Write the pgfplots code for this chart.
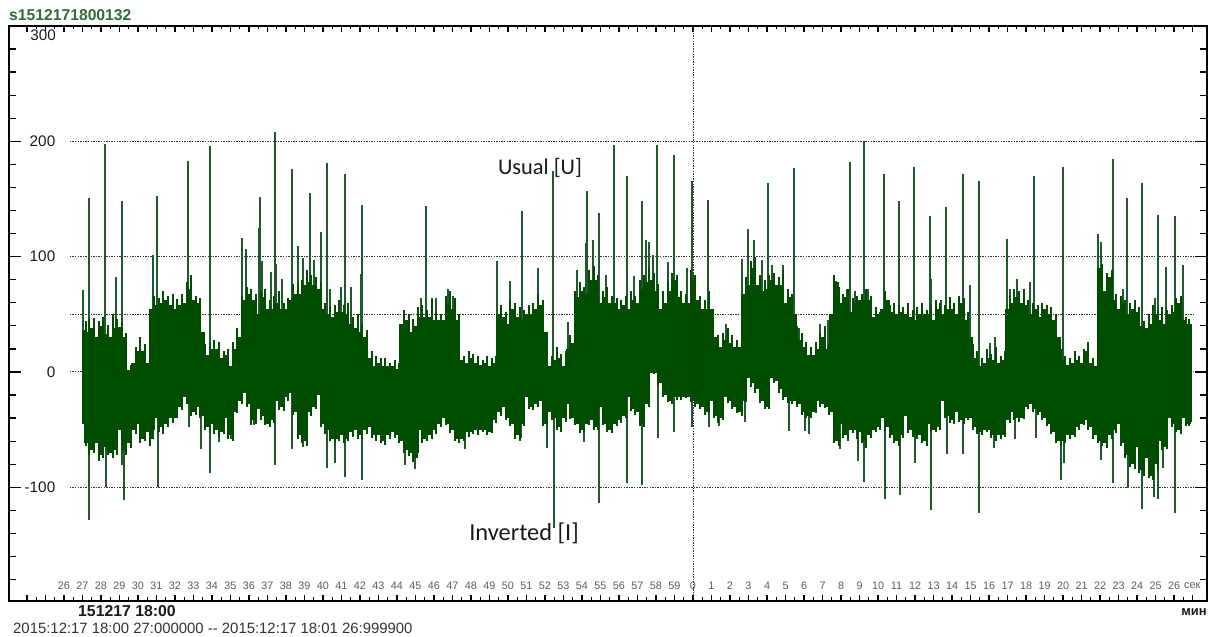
\documentclass[border=0pt]{standalone}
\usepackage{fontspec}
\setmainfont{Liberation Sans}
\newfontfamily\carlito{Carlito}
\usepackage{pgfplots}
\usepackage{pgfplotstable}
\pgfplotsset{compat=1.18}
\definecolor{sig}{HTML}{004D00}
\definecolor{spk}{HTML}{1F5A2C}
\definecolor{titlegreen}{HTML}{2F6B3A}
\definecolor{gridc}{HTML}{333333}
\definecolor{seclab}{HTML}{5A5A5A}

% signal envelope per quarter second: t, upper, lower
\pgfplotstableread{
t hi lo
27.1 36 -45
27.25 35 -62
27.5 38 -68
27.75 30 -62
28 40 -72
28.25 33 -65
28.5 30 -70
28.75 38 -68
29 39 -50
29.25 30 -68
29.5 -8 -62
29.75 8 -50
30 18 -45
30.25 18 -58
30.5 8 -52
30.75 55 -58
31 58 -40
31.25 60 -48
31.5 62 -45
31.75 58 -40
32 55 -40
32.25 58 -30
32.5 60 -22
32.75 72 -28
33 62 -35
33.25 60 -30
33.5 35 -38
33.75 15 -48
34 20 -45
34.25 20 -50
34.5 12 -52
34.75 15 -40
35 5 -55
35.25 20 -35
35.5 30 -25
35.75 62 -18
36 68 -28
36.25 62 -42
36.5 50 -32
36.75 65 -38
37 55 -45
37.25 55 -42
37.5 60 -25
37.75 55 -30
38 55 -22
38.25 62 -18
38.5 68 -35
38.75 68 -55
39 75 -60
39.25 78 -35
39.5 75 -30
39.75 72 -20
40 55 -45
40.25 50 -50
40.5 48 -58
40.75 52 -58
41 52 -55
41.25 50 -58
41.5 42 -52
41.75 38 -50
42 35 -55
42.25 30 -50
42.5 12 -48
42.75 5 -55
43 8 -55
43.25 5 -60
43.5 5 -55
43.75 5 -52
44 3 -55
44.25 42 -60
44.5 45 -68
44.75 35 -70
45 40 -75
45.25 48 -50
45.5 48 -58
45.75 48 -55
46 45 -50
46.25 45 -45
46.5 45 -40
46.75 60 -45
47 55 -50
47.25 45 -58
47.5 10 -58
47.75 8 -52
48 12 -52
48.25 8 -50
48.5 6 -50
48.75 8 -50
49 5 -52
49.25 8 -42
49.5 50 -35
49.75 48 -30
50 42 -40
50.25 55 -45
50.5 48 -55
50.75 45 -45
51 50 -22
51.25 50 -30
51.5 55 -28
51.75 58 -25
52 35 -45
52.25 5 -35
52.5 10 -40
52.75 12 -48
53 5 -40
53.25 20 -28
53.5 25 -40
53.75 65 -45
54 70 -50
54.25 68 -45
54.5 80 -42
54.75 80 -48
55 60 -30
55.25 65 -45
55.5 60 -50
55.75 60 -45
56 55 -42
56.25 58 -38
56.5 55 -22
56.75 62 -32
57 60 -35
57.25 72 -45
57.5 78 -28
57.75 80 0
58 70 0
58.25 55 -10
58.5 60 -20
58.75 70 -25
59 80 -22
59.25 65 -22
59.5 60 -22
59.75 60 -22
60 80 -25
60.25 62 -28
60.5 55 -30
60.75 55 -35
61 55 -25
61.25 30 -38
61.5 22 -40
61.75 28 -22
62 25 -25
62.25 22 -30
62.5 22 -35
62.75 68 -25
63 75 -5
63.25 90 -10
63.5 75 -15
63.75 70 -25
64 72 -30
64.25 80 -5
64.5 75 -8
64.75 75 -15
65 60 -22
65.25 65 -25
65.5 50 -25
65.75 28 -28
66 22 -35
66.25 15 -38
66.5 15 -35
66.75 20 -25
67 30 -28
67.25 20 -30
67.5 50 -35
67.75 78 -60
68 60 -45
68.25 65 -55
68.5 52 -50
68.75 60 -50
69 62 -52
69.25 62 -60
69.5 62 -55
69.75 48 -50
70 50 -48
70.25 55 -40
70.5 62 -48
70.75 52 -55
71 50 -60
71.25 52 -55
71.5 50 -38
71.75 48 -50
72 45 -55
72.25 50 -55
72.5 50 -60
72.75 50 -45
73 45 -50
73.25 55 -48
73.5 50 -25
73.75 55 -38
74 55 -42
74.25 50 -35
74.5 60 -42
74.75 45 -40
75 30 -40
75.25 12 -48
75.5 5 -52
75.75 8 -50
76 12 -50
76.25 10 -55
76.5 8 -55
76.75 10 -55
77 55 -42
77.25 60 -35
77.5 65 -40
77.75 60 -40
78 58 -30
78.25 50 -28
78.5 55 -32
78.75 48 -35
79 55 -40
79.25 50 -45
79.5 45 -52
79.75 30 -60
80 10 -60
80.25 6 -55
80.5 8 -55
80.75 10 -48
81 8 -45
81.25 18 -42
81.5 8 -48
81.75 5 -55
82 90 -60
82.25 70 -62
82.5 82 -55
82.75 62 -50
83 55 -45
83.25 60 -62
83.5 50 -72
83.75 55 -80
84 52 -65
84.25 40 -85
84.5 38 -75
84.75 42 -90
85 50 -80
85.25 45 -60
85.5 42 -65
85.75 50 -40
86 52 -45
86.25 60 -50
86.5 45 -40
86.75 40 -45
86.85 42 -43
}\body

% fine teeth on the envelope edges, between the quarter-second columns
\pgfplotstableread{
t hi lo
27.18 44 -64
27.375 46 -72
27.625 47 -70
27.875 44 -77
28.125 48 -75
28.375 41 -72
28.625 50 -75
28.875 46 -72
29.125 43 -60
29.375 34 -72
29.625 6 -66
29.875 22 -54
30.125 30 -62
30.375 24 -60
30.625 12 -64
30.875 66 -50
31.125 64 -52
31.375 70 -54
31.625 66 -48
31.875 68 -44
32.125 63 -36
32.375 68 -33
32.625 78 -26
32.875 84 -38
33.125 66 -37
33.375 64 -40
33.625 24 -50
33.875 26 -52
34.125 28 -54
34.375 26 -56
34.625 18 -54
34.875 20 -58
35.125 26 -60
35.375 38 -36
35.625 66 -28
35.875 74 -30
36.125 72 -46
36.375 68 -45
36.625 70 -42
36.875 72 -46
37.125 62 -48
37.375 66 -44
37.625 70 -33
37.875 60 -34
38.125 64 -25
38.375 76 -37
38.625 78 -58
38.875 80 -62
39.125 88 -64
39.375 84 -38
39.625 82 -32
39.875 78 -48
40.125 60 -54
40.375 56 -60
40.625 58 -62
40.875 62 -60
41.125 58 -62
41.375 60 -60
41.625 48 -56
41.875 50 -58
42.125 42 -58
42.375 36 -54
42.625 18 -57
42.875 14 -60
43.125 12 -62
43.375 12 -63
43.625 8 -58
43.875 10 -57
44.125 8 -62
44.375 54 -70
44.625 50 -73
44.875 46 -78
45.125 56 -70
45.375 58 -62
45.625 54 -60
45.875 62 -58
46.125 52 -54
46.375 50 -48
46.625 66 -46
46.875 70 -53
47.125 64 -60
47.375 50 -62
47.625 14 -60
47.875 18 -56
48.125 16 -54
48.375 14 -55
48.625 10 -52
48.875 14 -55
49.125 12 -53
49.375 14 -44
49.625 58 -38
49.875 52 -42
50.125 62 -47
50.375 60 -58
50.625 56 -60
50.875 54 -47
51.125 58 -32
51.375 60 -33
51.625 68 -30
51.875 62 -47
52.125 14 -46
52.375 14 -42
52.625 22 -50
52.875 16 -52
53.125 18 -43
53.375 32 -41
53.625 70 -46
53.875 78 -53
54.125 74 -52
54.375 88 -46
54.625 92 -50
54.875 84 -50
55.125 70 -46
55.375 74 -52
55.625 66 -53
55.875 64 -47
56.125 62 -44
56.375 66 -40
56.625 70 -34
56.875 66 -37
57.125 80 -47
57.375 84 -48
57.625 90 -30
57.875 86 -2
58.125 76 -12
58.375 70 -22
58.625 78 -26
58.875 86 -28
59.125 84 -24
59.375 70 -24
59.625 68 -23
59.875 88 -26
60.125 84 -30
60.375 66 -32
60.625 62 -37
60.875 70 -36
61.125 30 -40
61.375 32 -44
61.625 34 -42
61.875 38 -27
62.125 32 -32
62.375 28 -36
62.625 26 -38
62.875 82 -26
63.125 96 -13
63.375 100 -18
63.625 84 -27
63.875 80 -32
64.125 84 -32
64.375 86 -10
64.625 82 -18
64.875 88 -24
65.125 72 -27
65.375 68 -28
65.625 40 -30
65.875 34 -37
66.125 26 -40
66.375 22 -40
66.625 26 -36
66.875 34 -30
67.125 40 -31
67.375 24 -37
67.625 84 -62
67.875 74 -64
68.125 68 -57
68.375 72 -60
68.625 64 -53
68.875 66 -58
69.125 68 -62
69.375 72 -66
69.625 66 -57
69.875 56 -52
70.125 52 -50
70.375 70 -52
70.625 58 -57
70.875 60 -62
71.125 58 -64
71.375 56 -57
71.625 60 -53
71.875 54 -56
72.125 56 -58
72.375 60 -62
72.625 54 -64
72.875 58 -52
73.125 62 -52
73.375 60 -50
73.625 58 -40
73.875 65 -44
74.125 60 -45
74.375 66 -43
74.625 64 -45
74.875 52 -42
75.125 24 -50
75.375 18 -54
75.625 12 -55
75.875 20 -52
76.125 16 -57
76.375 22 -60
76.625 14 -58
76.875 18 -56
77.125 66 -44
77.375 72 -42
77.625 70 -43
77.875 72 -41
78.125 62 -32
78.375 60 -35
78.625 58 -37
78.875 60 -42
79.125 58 -47
79.375 56 -54
79.625 50 -62
79.875 20 -64
80.125 14 -62
80.375 12 -58
80.625 18 -56
80.875 14 -50
81.125 20 -46
81.375 26 -50
81.625 12 -58
81.875 10 -62
82.125 94 -64
82.375 86 -66
82.625 88 -58
82.875 68 -53
83.125 66 -64
83.375 62 -75
83.625 60 -82
83.875 62 -84
84.125 56 -88
84.375 44 -90
84.625 50 -92
84.875 58 -94
85.125 54 -85
85.375 56 -68
85.625 54 -67
85.875 58 -48
86.125 64 -52
86.375 66 -54
86.625 48 -47
86.8 46 -47
}\teeth

\pgfplotstableread{
t v
27.02 71
27.33 151
28.21 198
28.82 82
29.13 148
30.79 101
31.02 153
32.72 183
33.87 196
35.65 116
35.85 107
36.59 152
36.54 125
36.73 96
37.18 87
37.4 208
37.45 94
37.76 81
38.3 176
38.63 109
38.93 99
39.29 155
39.53 97
39.89 121
40.21 181
40.37 72
41 74
41.18 172
41.49 74
42.05 85
42.09 145
45.29 64
45.56 144
45.87 64
46.1 64
46.77 72
47.02 66
49.38 96
50.1 79
50.75 140
51.6 90
52.41 174
53.26 43
53.71 88
54.19 112
54.25 157
54.61 114
54.9 138
55.29 84
55.73 197
56.45 170
56.82 83
57.22 148
57.44 114
57.63 113
57.85 101
58.05 197
58.63 95
58.95 188
59.69 90
59.92 166
60.01 86
60.81 149
61.8 42
62.63 98
62.99 124
63.31 114
63.74 97
64.05 164
64.25 93
64.84 93
65.44 177
65.75 38
66.86 42
67.31 45
67.73 79
68.3 72
68.48 182
68.73 70
69.22 200
69.47 72
70.34 172
71.15 148
71.96 178
72.81 135
72.86 81
73.38 62
73.69 143
74.59 172
74.95 75
75.46 166
76.05 25
76.32 30
76.95 115
77.13 72
77.49 81
78.21 78
78.45 170
80.01 178
81.91 120
82.05 113
82.7 185
83.22 72
83.45 151
84.25 164
84.97 64
85.13 136
85.56 91
86.05 135
86.46 93
27.36 -128
28.25 -100
29.13 -81
29.26 -111
31.06 -100
32.75 -48
33.4 -67
33.87 -88
34.37 -61
35.02 -58
36.25 -46
37.4 -81
38.34 -67
38.93 -65
40.23 -83
40.64 -79
41.18 -91
42.12 -94
44.43 -81
44.97 -84
47.67 -67
50.7 -57
52.09 -66
52.5 -135
54.12 -61
54.91 -114
56.45 -96
57.26 -98
58.09 -57
58.95 -52
59.96 -48
60.84 -48
61.4 -47
62.81 -43
65.18 -51
66.05 -51
66.27 -54
67.94 -67
68.93 -77
69.22 -95
70.37 -110
71.18 -107
71.99 -79
72.86 -120
73.71 -71
74.59 -71
75.47 -122
76.28 -66
77.42 -58
78.52 -57
79.87 -94
80.05 -79
82.05 -76
82.72 -96
83.51 -101
83.89 -83
84.28 -119
84.91 -108
85.13 -110
85.42 -83
86.05 -122
}\spikes

\begin{document}
\begin{tikzpicture}[x=1pt,y=1pt]
\path[use as bounding box] (0,0) rectangle (1211,637);
\begin{axis}[
  at={(9pt,36pt)},
  anchor=south west,
  scale only axis,
  width=1198pt,
  height=575pt,
  xmin=23.03, xmax=87.78,
  ymin=-198.6, ymax=300,
  axis line style={line width=1.6pt},
  ytick=\empty,
  xtick={24,...,87},
  minor x tick num=1,
  tickwidth=6pt,
  subtickwidth=3.5pt,
  xtick style={line width=1.3pt,black},
  xticklabels={,,26,27,28,29,30,31,32,33,34,35,36,37,38,39,40,41,42,43,44,45,46,47,48,49,50,51,52,53,54,55,56,57,58,59,0,1,2,3,4,5,6,7,8,9,10,11,12,13,14,15,16,17,18,19,20,21,22,23,24,25,26,},
  xticklabel style={font=\fontsize{10.8}{12}\selectfont,text=seclab,yshift=22.5pt},
]
  % dotted level lines
  \addplot[gridc,line width=1pt,dash pattern=on 1.4pt off 1.2pt] coordinates {(26.32,200) (87.1,200)};
  \addplot[gridc,line width=1pt,dash pattern=on 1.4pt off 1.2pt] coordinates {(26.32,100) (87.1,100)};
  \addplot[gridc,line width=1pt,dash pattern=on 1.4pt off 1.2pt] coordinates {(26.32,50) (87.1,50)};
  \addplot[gridc,line width=1pt,dash pattern=on 1.4pt off 1.2pt] coordinates {(26.32,0) (87.1,0)};
  \addplot[gridc,line width=1pt,dash pattern=on 1.4pt off 1.2pt] coordinates {(26.32,-100) (87.1,-100)};
  % spikes first, so that the body covers them; then teeth and body
  \addplot[ycomb,no markers,spk,line width=2pt] table[x=t,y=v] {\spikes};
  \addplot[ycomb,no markers,sig,line width=2pt] table[x=t,y=hi] {\teeth};
  \addplot[ycomb,no markers,sig,line width=2pt] table[x=t,y=lo] {\teeth};
  \addplot[ycomb,no markers,sig,line width=5.2pt] table[x=t,y=hi] {\body};
  \addplot[ycomb,no markers,sig,line width=5.2pt] table[x=t,y=lo] {\body};
  % closes the seam where upper and lower columns meet
  \addplot[sig,line width=3pt] coordinates {(27,0) (86.95,0)};
  % minute marker
  \addplot[gridc,line width=1pt,dash pattern=on 1.4pt off 1.2pt] coordinates {(60.05,-198.6) (60.05,300)};
\end{axis}
\begin{axis}[
  at={(9pt,36pt)},
  anchor=south west,
  scale only axis,
  width=1198pt,
  height=575pt,
  xmin=23.03, xmax=87.78,
  ymin=-198.6, ymax=300,
  axis line style={line width=1.6pt},
  xtick=\empty,
  ytick={-100,0,100,200},
  minor ytick={-180,-160,-140,-120,-80,-60,-40,-20,20,40,60,80,120,140,160,180,220,240,260,280},
  tickwidth=12pt,
  subtickwidth=7pt,
  ytick style={line width=1.3pt,black},
  yticklabels={-100,0,100,200},
  yticklabel style={font=\fontsize{15.3}{17}\selectfont,text=black!90,xshift=49.8pt},
]
\end{axis}
\node[anchor=base west,inner sep=0pt,text=titlegreen,font=\bfseries\fontsize{15.7}{17}\selectfont] at (9,637-21) {s1512171800132};
\node[anchor=base east,inner sep=0pt,text=black!90,font=\fontsize{15.3}{17}\selectfont] at (56,637-41) {300};
\node[anchor=base west,inner sep=0pt,text=seclab,font=\fontsize{10.8}{12}\selectfont] at (1184,637-589) {сек};
\node[anchor=base west,inner sep=0pt,text=black!90,font=\bfseries\fontsize{15.8}{17}\selectfont] at (78,637-617) {151217 18:00};
\node[anchor=base east,inner sep=0pt,text=black!90,font=\bfseries\fontsize{13}{15}\selectfont] at (1207,637-616) {мин};
\node[anchor=base west,inner sep=0pt,text=black!80,font=\fontsize{14.9}{16}\selectfont] at (13,637-634) {2015:12:17 18:00 27:000000 {-}{-} 2015:12:17 18:01 26:999900};
\node[anchor=center,inner sep=0pt,text=black!90,font=\carlito\fontsize{22.4}{24}\selectfont] at (540,637-168) {Usual [U]};
\node[anchor=center,inner sep=0pt,text=black!90,font=\carlito\fontsize{24.4}{26}\selectfont] at (524,637-533) {Inverted [I]};
\end{tikzpicture}
\end{document}
